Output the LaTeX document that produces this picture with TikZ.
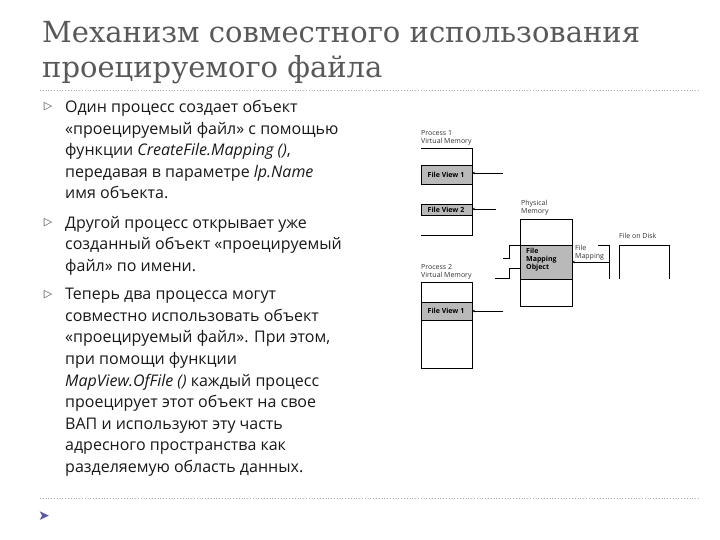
\documentclass[tikz,border=0pt]{standalone}
\usetikzlibrary{arrows.meta}
\usepackage{fontspec}
\setmainfont{Open Sans}
\newfontfamily\titlefont{DejaVu Serif}
\newfontfamily\symfont{DejaVu Sans}
\begin{document}
\begin{tikzpicture}[x=1pt,y=-1pt,
  body/.style={font=\fontsize{16}{21.6}\selectfont,anchor=north west,align=left,inner sep=0pt,text=black!90},
  small/.style={font=\fontsize{7}{8}\selectfont,anchor=north west,align=left,inner sep=0pt,text=black!80},
  band/.style={fill=gray!55,draw=black,line width=0.5pt},
  ln/.style={line width=0.6pt},
  arr/.style={line width=0.6pt,-{Stealth[length=3pt,width=2.5pt]}}]
\useasboundingbox (0,0) rectangle (720,540);
\fill[white] (0,0) rectangle (720,540);
\node[anchor=west,inner sep=0pt,text=black!65,font=\titlefont\fontsize{29}{34}\selectfont] (t1) at (42,32) {Механизм совместного использования};
\node[anchor=west,inner sep=0pt,text=black!65,font=\titlefont\fontsize{29}{34}\selectfont] (t2) at (42,70) {проецируемого файла};
\draw[gray!60,dotted,line width=0.8pt] (40,90) -- (700,90);
\draw[gray!60,dotted,line width=0.8pt] (40,498) -- (700,498);
\node[text=gray!70!blue,font=\symfont\fontsize{14}{14}\selectfont,inner sep=0pt] (ic) at (44,516) {➤};
\foreach \y/\n in {107/b1,223/b2,295/b3}
  \node[text=black!70,font=\symfont\fontsize{11}{11}\selectfont,inner sep=0pt] (\n) at (48,\y) {▷};
\node[body] (p1) at (65,100) {Один процесс создает объект\\«проецируемый файл» с помощью\\функции \textit{CreateFile.Mapping ()},\\передавая в параметре \textit{lp.Name}\\имя объекта.};
\node[body] (p2) at (65,216) {Другой процесс открывает уже\\созданный объект «проецируемый\\файл» по имени.};
\node[body] (p3) at (65,288) {Теперь два процесса могут\\совместно использовать объект\\«проецируемый файл». При этом,\\при помощи функции\\\textit{MapView.OfFile ()} каждый процесс\\проецирует этот объект на свое\\ВАП и используют эту часть\\адресного пространства как\\разделяемую область данных.};
% diagram
\node[small] (l1) at (421,130) {Process 1\\Virtual Memory};
\draw[ln] (421,148) -- (472,148) -- (472,235) -- (421,235);
\draw[band] (421,165) rectangle (472,184);
\node[font=\bfseries\fontsize{7}{8}\selectfont,inner sep=0pt] (fv1) at (446,174.5) {File View 1};
\draw[band] (421,204) rectangle (472,215);
\node[font=\bfseries\fontsize{7}{8}\selectfont,inner sep=0pt] (fv2) at (446,209.5) {File View 2};
\coordinate (a1) at (503,173); \coordinate (a1e) at (472,173);
\draw[arr] (a1) -- (a1e);
\coordinate (a2) at (496,209); \coordinate (a2e) at (472,209);
\draw[arr] (a2) -- (a2e);
\node[small] (lpm) at (521,200) {Physical\\Memory};
\draw[ln] (520,219) rectangle (572,306);
\draw[band] (520,245) rectangle (572,279);
\node[font=\bfseries\fontsize{7}{8}\selectfont,inner sep=0pt,align=left,anchor=north west] (fmo) at (526,248) {File\\Mapping\\Object};
\draw[ln] (503,258) -- (509,258) -- (509,245) -- (520,245);
\draw[ln] (495,278) -- (509,278) -- (509,268) -- (520,268);
\node[small] (lfm) at (575,245) {File\\Mapping};
\node[small] (lfd) at (619,233) {File on Disk};
\draw[ln] (598,245) -- (609,245) -- (609,279);
\draw[ln] (619,279) -- (619,245) -- (669,245) -- (669,279);
\coordinate (d1) at (609,262); \coordinate (d1e) at (572,262);
\draw[arr] (d1) -- (d1e);
\node[small] (l2) at (421,264) {Process 2\\Virtual Memory};
\draw[ln] (421,282) rectangle (472,368);
\draw[band] (421,302) rectangle (472,320);
\node[font=\bfseries\fontsize{7}{8}\selectfont,inner sep=0pt] (fv3) at (446,311) {File View 1};
\coordinate (a3) at (503,311); \coordinate (a3e) at (472,311);
\draw[arr] (a3) -- (a3e);
\end{tikzpicture}
\end{document}
